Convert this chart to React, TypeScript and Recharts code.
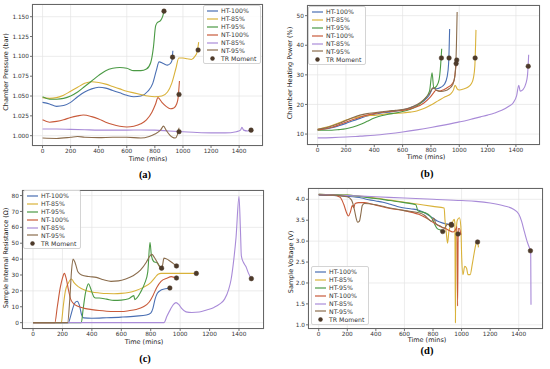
import React from 'react';
import { CartesianGrid, ComposedChart, Line, XAxis, YAxis } from 'recharts';

type Pt = [number, number];

const SERIES = ['HT-100%', 'HT-85%', 'HT-95%', 'NT-100%', 'NT-85%', 'NT-95%'];
const COLORS = ['#4a6fb3', '#d9b23a', '#4b9a45', '#c85a3a', '#a98bd8', '#8b6d4d'];
const TR_COLOR = '#4d3a2a';

const timeTicks = [0, 200, 400, 600, 800, 1000, 1200, 1400];
const pressureTicks = [1.0, 1.025, 1.05, 1.075, 1.1, 1.125, 1.15];
const powerTicks = [10, 20, 30, 40, 50];
const resistanceTicks = [0, 10, 20, 30, 40, 50, 60, 70, 80];
const voltageTicks = [1.0, 1.5, 2.0, 2.5, 3.0, 3.5, 4.0];

// (a) chamber pressure, bar
const aHT100: Pt[] = [[0, 1.042], [50, 1.04], [100, 1.037], [150, 1.038], [200, 1.042], [250, 1.049], [300, 1.055], [350, 1.059], [400, 1.061], [450, 1.06], [500, 1.057], [550, 1.054], [600, 1.051], [650, 1.049], [700, 1.05], [750, 1.056], [785, 1.066], [810, 1.082], [830, 1.093], [860, 1.091], [890, 1.089], [910, 1.091], [922, 1.095], [928, 1.107]];
const aHT85: Pt[] = [[0, 1.048], [50, 1.047], [100, 1.048], [150, 1.051], [200, 1.056], [250, 1.061], [300, 1.066], [350, 1.068], [400, 1.067], [450, 1.065], [500, 1.062], [550, 1.059], [600, 1.056], [650, 1.054], [700, 1.052], [750, 1.05], [800, 1.049], [850, 1.05], [890, 1.055], [920, 1.066], [950, 1.085], [970, 1.098], [1000, 1.098], [1030, 1.097], [1060, 1.096], [1085, 1.1], [1100, 1.105], [1112, 1.118]];
const aHT95: Pt[] = [[0, 1.049], [50, 1.046], [100, 1.046], [150, 1.047], [200, 1.05], [250, 1.055], [300, 1.062], [350, 1.069], [400, 1.076], [450, 1.082], [500, 1.085], [550, 1.086], [600, 1.085], [650, 1.082], [700, 1.082], [740, 1.084], [770, 1.092], [790, 1.112], [805, 1.138], [815, 1.142], [840, 1.145], [855, 1.15], [865, 1.157]];
const aNT100: Pt[] = [[0, 1.02], [50, 1.017], [100, 1.018], [150, 1.02], [200, 1.023], [250, 1.025], [290, 1.026], [350, 1.024], [400, 1.021], [450, 1.017], [500, 1.014], [550, 1.012], [600, 1.011], [650, 1.012], [700, 1.015], [740, 1.02], [780, 1.03], [805, 1.04], [822, 1.048], [850, 1.042], [880, 1.037], [910, 1.034], [935, 1.035], [955, 1.04], [965, 1.047], [975, 1.069]];
const aNT85: Pt[] = [[0, 1.0085], [100, 1.0085], [200, 1.008], [300, 1.0075], [400, 1.007], [500, 1.007], [600, 1.007], [700, 1.0072], [800, 1.007], [900, 1.006], [1000, 1.005], [1100, 1.004], [1200, 1.0035], [1300, 1.0035], [1380, 1.005], [1410, 1.007], [1420, 1.0105], [1432, 1.007], [1460, 1.006], [1485, 1.007]];
const aNT95: Pt[] = [[0, 0.997], [100, 0.9965], [200, 0.998], [250, 0.999], [300, 0.998], [400, 0.9975], [500, 0.998], [600, 0.998], [700, 0.997], [760, 0.999], [800, 1.002], [840, 1.007], [862, 1.012], [880, 1.007], [905, 1.001], [925, 0.998], [945, 0.997], [960, 1.001], [972, 1.01]];
const aTR: Pt[] = [[865, 1.157], [926, 1.099], [972, 1.052], [972, 1.005], [1108, 1.108], [1485, 1.007]];

// (b) chamber heating power, %
const bHT100: Pt[] = [[0, 11.5], [50, 11.7], [100, 12.1], [150, 12.8], [200, 13.6], [250, 14.5], [300, 15.3], [350, 16.1], [400, 16.7], [450, 17.1], [500, 17.4], [550, 17.7], [600, 18.2], [650, 18.8], [700, 19.8], [750, 21.2], [790, 23.3], [815, 25.5], [840, 25.3], [870, 25.8], [895, 26.8], [915, 29.5], [925, 34], [932, 45.5]];
const bHT85: Pt[] = [[0, 11.6], [50, 12.2], [100, 12.9], [150, 13.8], [200, 14.7], [250, 15.4], [300, 15.9], [350, 16.2], [400, 16.3], [450, 16.6], [500, 16.9], [550, 17], [600, 17.1], [650, 17.4], [700, 17.8], [750, 18.6], [800, 19.8], [850, 21.2], [900, 22.6], [940, 23.6], [960, 25], [970, 26.5], [985, 25.3], [1000, 24.9], [1030, 25.2], [1060, 25.8], [1085, 27], [1100, 29], [1110, 33], [1118, 45.2]];
const bHT95: Pt[] = [[0, 11.3], [50, 11.3], [100, 11.3], [150, 11.5], [200, 11.8], [250, 12.4], [300, 13.2], [350, 14.3], [400, 15.4], [450, 16.2], [500, 16.7], [550, 17.1], [600, 17.6], [650, 18.3], [700, 19.4], [750, 21.5], [790, 24.5], [808, 30.7], [820, 25.5], [840, 26.2], [858, 28.5], [868, 33], [876, 38.8]];
const bNT100: Pt[] = [[0, 11.4], [50, 11.7], [100, 12.3], [150, 13.1], [200, 14], [250, 14.9], [300, 15.7], [350, 16.4], [400, 16.9], [450, 17.3], [500, 17.6], [550, 17.8], [600, 18], [650, 18.5], [700, 19.2], [750, 20.5], [790, 22.2], [820, 24], [835, 24.8], [860, 24.5], [890, 25], [920, 25.8], [950, 27], [965, 28.5], [978, 33.8]];
const bNT85: Pt[] = [[0, 8.7], [100, 8.8], [200, 9], [300, 9.3], [400, 9.6], [500, 10.1], [600, 10.7], [700, 11.4], [800, 12.2], [900, 13.1], [1000, 14.1], [1050, 14.6], [1100, 15.2], [1150, 15.8], [1200, 16.4], [1250, 17.1], [1300, 18], [1350, 19.4], [1380, 20.5], [1405, 23], [1420, 26.5], [1430, 24.5], [1450, 25], [1470, 27], [1482, 30], [1490, 36.8]];
const bNT95: Pt[] = [[0, 11.6], [50, 12], [100, 12.7], [150, 13.6], [200, 14.6], [250, 15.6], [300, 16.4], [350, 16.9], [400, 17.2], [450, 17.5], [500, 17.8], [550, 18], [600, 18.3], [650, 18.9], [700, 19.9], [750, 21.6], [790, 23.8], [815, 25.6], [840, 24.8], [870, 24.4], [900, 24.6], [930, 25.4], [955, 26.8], [970, 30], [980, 40], [985, 51.2]];
const bTR: Pt[] = [[874, 35.7], [928, 35.7], [978, 33.8], [982, 35], [1112, 35.7], [1487, 32.9]];

// (c) sample internal resistance, ohm
const cHT100: Pt[] = [[0, 0], [240, 0], [255, 4], [270, 9], [285, 12.5], [300, 13.5], [315, 11], [330, 5], [345, 3], [400, 2.8], [500, 3.1], [600, 3.5], [700, 4.1], [770, 4.8], [800, 6], [815, 9], [830, 15], [845, 18.5], [870, 20.5], [900, 21.3], [930, 21.8]];
const cHT85: Pt[] = [[0, 0], [192, 0], [205, 10], [220, 20], [240, 25], [262, 27.5], [280, 25], [310, 22.5], [350, 20.5], [400, 19.3], [450, 18.7], [500, 18.3], [550, 18.2], [600, 18.4], [650, 19], [700, 20.3], [750, 22.2], [800, 25.2], [830, 28.5], [850, 30.5], [870, 31], [950, 31], [1050, 31], [1110, 31]];
const cHT95: Pt[] = [[0, 0], [328, 0], [340, 8], [355, 18], [365, 22], [377, 24.5], [390, 22], [405, 18], [415, 16], [425, 15.5], [450, 15.5], [500, 14.8], [550, 14], [600, 14.2], [650, 15], [685, 17], [692, 14.5], [710, 16], [730, 19], [760, 25], [780, 32], [795, 50.5], [805, 42], [820, 38.5], [845, 37.5], [865, 35], [874, 34.2]];
const cNT100: Pt[] = [[0, 0], [148, 0], [165, 10], [185, 22], [200, 28], [213, 31], [225, 28], [240, 21], [255, 15], [275, 12], [300, 10.5], [350, 9], [400, 8.2], [450, 7.6], [500, 7.2], [550, 7], [600, 7], [650, 7.5], [700, 8.3], [750, 10], [790, 13], [815, 17], [840, 22], [870, 26], [910, 28], [940, 29], [975, 28]];
const cNT85: Pt[] = [[0, 0], [890, 0], [910, 4], [935, 8.5], [955, 11.5], [972, 12.6], [990, 11.5], [1010, 9], [1040, 6.8], [1080, 6.4], [1130, 6.7], [1180, 8], [1230, 9.6], [1270, 11.8], [1302, 14.8], [1330, 21], [1346, 27], [1365, 40], [1380, 53.7], [1400, 79.4], [1410, 58], [1416, 42], [1430, 38], [1447, 35.3], [1465, 31], [1484, 27.7]];
const cNT95: Pt[] = [[0, 0], [235, 0], [250, 15], [262, 33], [272, 40], [285, 38], [295, 35], [305, 32], [330, 30], [380, 29], [430, 28.5], [480, 27], [530, 26], [580, 26.3], [630, 27.5], [680, 29.5], [730, 33], [770, 38], [795, 42], [808, 43], [825, 41], [850, 37], [868, 34], [878, 35], [890, 40.6], [920, 39.5], [950, 37.5], [975, 35.5]];
const cTR: Pt[] = [[874, 34.3], [930, 21.8], [975, 28.1], [975, 35.7], [1110, 31], [1484, 27.7]];

// (d) sample voltage, V
const dHT100: Pt[] = [[0, 4.1], [100, 4.09], [200, 4.07], [300, 4.03], [350, 3.99], [400, 3.96], [450, 3.93], [500, 3.88], [550, 3.83], [600, 3.79], [650, 3.77], [700, 3.74], [750, 3.66], [800, 3.55], [830, 3.48], [870, 3.43], [900, 3.41], [928, 3.4]];
const dHT85: Pt[] = [[0, 4.12], [100, 4.11], [200, 4.1], [300, 4.07], [400, 4.03], [500, 3.98], [600, 3.93], [700, 3.88], [800, 3.83], [878, 3.79], [884, 3.5], [893, 3.2], [902, 2.95], [912, 3.25], [930, 3.4], [948, 3.52], [953, 3.45], [957, 1.05], [961, 3.1], [970, 3.5], [985, 3.56], [995, 3.35], [1001, 2.6], [1010, 2.2], [1022, 2.4], [1035, 2.35], [1045, 2.2], [1060, 2.2], [1075, 2.45], [1090, 2.75], [1102, 2.95], [1112, 3], [1118, 2.85]];
const dHT95: Pt[] = [[0, 4.12], [100, 4.11], [200, 4.1], [300, 4.06], [400, 4.02], [500, 3.97], [600, 3.92], [680, 3.87], [695, 3.72], [720, 3.7], [750, 3.67], [780, 3.6], [800, 3.5], [815, 3.38], [830, 3.3], [850, 3.27], [868, 3.23]];
const dNT100: Pt[] = [[0, 4.11], [100, 4.1], [150, 4.05], [175, 3.88], [195, 3.68], [208, 3.6], [222, 3.7], [235, 3.85], [245, 3.8], [255, 3.9], [280, 3.92], [320, 3.92], [400, 3.86], [500, 3.78], [600, 3.73], [700, 3.64], [750, 3.56], [800, 3.45], [850, 3.35], [900, 3.28], [940, 3.22], [962, 3.3], [968, 3.35], [972, 1.45], [977, 3.3], [985, 3.3], [995, 3.15]];
const dNT85: Pt[] = [[0, 4.12], [200, 4.09], [400, 4.06], [600, 4.03], [800, 4], [1000, 3.97], [1100, 3.95], [1200, 3.91], [1300, 3.84], [1360, 3.77], [1400, 3.65], [1420, 3.48], [1440, 3.22], [1460, 2.98], [1478, 2.82], [1484, 2.78], [1486, 1.48]];
const dNT95: Pt[] = [[0, 4.11], [100, 4.1], [200, 4.06], [230, 3.98], [250, 3.75], [262, 3.55], [272, 3.45], [285, 3.48], [295, 3.65], [305, 3.85], [320, 3.9], [400, 3.87], [500, 3.79], [600, 3.73], [700, 3.68], [740, 3.62], [770, 3.52], [790, 3.47], [805, 3.55], [820, 3.42], [850, 3.36], [880, 3.31], [900, 3.4], [930, 3.38]];
const dTR: Pt[] = [[868, 3.23], [928, 3.4], [975, 3.17], [930, 3.38], [1112, 2.98], [1482, 2.77]];

const rows = (pts: Pt[]) => pts.map(([t, v]) => ({ t, v }));

const font = 'DejaVu Sans';
const tickFont = { fontSize: 5.8, fill: '#333', fontFamily: font };

type Box = { x1: number; x2: number; y1: number; y2: number };

type PanelProps = {
  box: Box;
  yDomain: [number, number];
  yTicks: number[];
  yFmt: (v: number) => string;
  lines: Pt[][];
  tr: Pt[];
};

function Panel({ box, yDomain, yTicks, yFmt, lines, tr }: PanelProps) {
  const yw = 30;
  const w = box.x2 - box.x1 + yw + 4;
  const h = box.y2 - box.y1 + 2 + 14;
  return (
    <>
      <div style={{ position: 'absolute', left: box.x1 - yw, top: box.y1 - 2 }}>
        <ComposedChart width={w} height={h} margin={{ top: 2, right: 4, bottom: 2, left: 0 }}>
          <CartesianGrid stroke="#e4e4e4" strokeWidth={0.7} />
          <XAxis
            type="number"
            dataKey="t"
            domain={[-75, 1570]}
            ticks={timeTicks}
            allowDataOverflow
            height={12}
            tick={tickFont}
            tickSize={2}
            tickMargin={1}
            axisLine={false}
            tickLine={{ stroke: '#333', strokeWidth: 0.7 }}
          />
          <YAxis
            type="number"
            domain={yDomain}
            ticks={yTicks}
            allowDataOverflow
            width={yw}
            tick={tickFont}
            tickSize={2}
            tickMargin={1}
            axisLine={false}
            tickLine={{ stroke: '#333', strokeWidth: 0.7 }}
            tickFormatter={yFmt}
          />
          {lines.map((pts, i) => (
            <Line
              key={SERIES[i]}
              data={rows(pts)}
              dataKey="v"
              name={SERIES[i]}
              type="monotone"
              stroke={COLORS[i]}
              strokeWidth={1.1}
              dot={false}
              isAnimationActive={false}
            />
          ))}
          <Line
            data={rows(tr)}
            dataKey="v"
            name="TR Moment"
            type="linear"
            stroke="none"
            dot={{ r: 2.3, fill: TR_COLOR, stroke: TR_COLOR, strokeWidth: 0.5 }}
            isAnimationActive={false}
          />
        </ComposedChart>
      </div>
      <div
        style={{
          position: 'absolute',
          left: box.x1,
          top: box.y1,
          width: box.x2 - box.x1,
          height: box.y2 - box.y1,
          boxSizing: 'border-box',
          border: '1px solid #666',
          pointerEvents: 'none',
        }}
      />
    </>
  );
}

function LegendBox({ x, y }: { x: number; y: number }) {
  const row = { display: 'flex', alignItems: 'center', height: 7.9 } as const;
  return (
    <div
      style={{
        position: 'absolute',
        left: x,
        top: y,
        padding: '1px 4px 1px 3px',
        background: 'rgba(255,255,255,0.85)',
        border: '1px solid #d4d4d4',
        borderRadius: 2,
        fontFamily: font,
        fontSize: 6.2,
        color: '#333',
        whiteSpace: 'nowrap',
      }}
    >
      {SERIES.map((s, i) => (
        <div key={s} style={row}>
          <svg width={11} height={4}>
            <line x1={0} x2={11} y1={2} y2={2} stroke={COLORS[i]} strokeWidth={1.2} />
          </svg>
          <span style={{ marginLeft: 3 }}>{s}</span>
        </div>
      ))}
      <div style={row}>
        <svg width={11} height={5}>
          <circle cx={5.5} cy={2.5} r={2.2} fill={TR_COLOR} />
        </svg>
        <span style={{ marginLeft: 3 }}>TR Moment</span>
      </div>
    </div>
  );
}

function Text({ x, y, children, rotate, size = 6.5, bold, serif }: { x: number; y: number; children: React.ReactNode; rotate?: boolean; size?: number; bold?: boolean; serif?: boolean }) {
  return (
    <div
      style={{
        position: 'absolute',
        left: x,
        top: y,
        transform: `translate(-50%, -50%)${rotate ? ' rotate(-90deg)' : ''}`,
        fontFamily: serif ? 'Liberation Serif' : font,
        fontWeight: bold ? 700 : 400,
        fontSize: size,
        color: serif ? '#000' : '#222',
        whiteSpace: 'nowrap',
      }}
    >
      {children}
    </div>
  );
}

export default function App() {
  return (
    <div style={{ position: 'absolute', left: 0, top: 0, width: 550, height: 369, background: '#fff', overflow: 'hidden' }}>
      <Panel
        box={{ x1: 32, x2: 263, y1: 4, y2: 146 }}
        yDomain={[0.987, 1.166]}
        yTicks={pressureTicks}
        yFmt={(v) => v.toFixed(3)}
        lines={[aHT100, aHT85, aHT95, aNT100, aNT85, aNT95]}
        tr={aTR}
      />
      <Panel
        box={{ x1: 307, x2: 540, y1: 5, y2: 145 }}
        yDomain={[6.3, 53.6]}
        yTicks={powerTicks}
        yFmt={(v) => String(v)}
        lines={[bHT100, bHT85, bHT95, bNT100, bNT85, bNT95]}
        tr={bTR}
      />
      <Panel
        box={{ x1: 22, x2: 264, y1: 190, y2: 329 }}
        yDomain={[-4, 83.5]}
        yTicks={resistanceTicks}
        yFmt={(v) => String(v)}
        lines={[cHT100, cHT85, cHT95, cNT100, cNT85, cNT95]}
        tr={cTR}
      />
      <Panel
        box={{ x1: 308, x2: 543, y1: 188, y2: 329 }}
        yDomain={[0.9, 4.27]}
        yTicks={voltageTicks}
        yFmt={(v) => v.toFixed(1)}
        lines={[dHT100, dHT85, dHT95, dNT100, dNT85, dNT95]}
        tr={dTR}
      />

      <LegendBox x={203} y={5} />
      <LegendBox x={308} y={6} />
      <LegendBox x={23} y={190} />
      <LegendBox x={311} y={266} />

      <Text x={6} y={72} rotate>Chamber Pressure (bar)</Text>
      <Text x={290} y={73} rotate>Chamber Heating Power (%)</Text>
      <Text x={6} y={258} rotate>Sample Internal Resistance (Ω)</Text>
      <Text x={291} y={262} rotate>Sample Voltage (V)</Text>

      <Text x={148} y={159}>Time (mins)</Text>
      <Text x={426} y={157}>Time (mins)</Text>
      <Text x={144} y={342}>Time (mins)</Text>
      <Text x={427} y={340}>Time (mins)</Text>

      <Text x={145} y={174} size={10.5} bold serif>(a)</Text>
      <Text x={427} y={173} size={10.5} bold serif>(b)</Text>
      <Text x={145} y={358} size={10.5} bold serif>(c)</Text>
      <Text x={427} y={350} size={10.5} bold serif>(d)</Text>
    </div>
  );
}
